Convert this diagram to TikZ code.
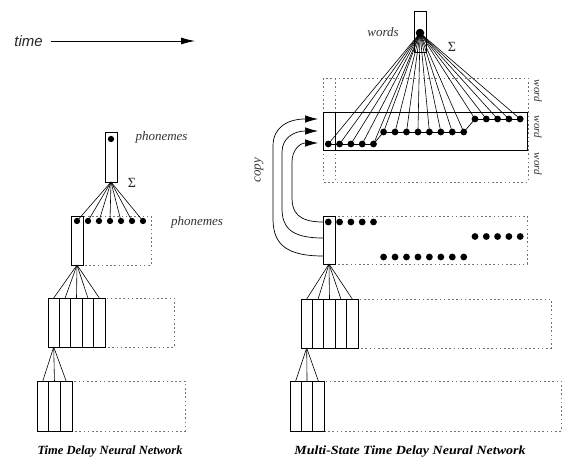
\documentclass[tikz,border=0pt]{standalone}
\usepackage{fontspec}
\setmainfont{Liberation Serif}
\newfontfamily\helvfont{Liberation Sans}
\usetikzlibrary{arrows.meta}
\begin{document}
\begin{tikzpicture}[x=1pt,y=-1pt, line width=0.7pt,
  unit/.style={circle, fill=black, inner sep=0pt, minimum size=6.3pt},
  runit/.style={circle, fill=black, inner sep=0pt, minimum size=6.8pt},
  col/.style={draw, inner sep=0pt, outer sep=0pt, minimum width=12pt},
  dbox/.style={draw=black!55, dash pattern=on 1.6pt off 2.6pt, line width=0.8pt},
  fan/.style={draw, line width=0.6pt},
  lbl/.style={font=\itshape\fontsize{13}{13}\selectfont, text=black!80, inner sep=0pt},
  wlbl/.style={font=\itshape\fontsize{11}{11}\selectfont, text=black!80, inner sep=0pt},
  sig/.style={font=\fontsize{14}{14}\selectfont, text=black!85, inner sep=0pt},
  captionstyle/.style={font=\bfseries\itshape\fontsize{12.5}{12.5}\selectfont, inner sep=0pt},
  copyarrow/.style={draw, line width=0.7pt, -{Latex[length=13pt,width=7.5pt]}}]
\useasboundingbox (0,0) rectangle (562,461);

% time arrow
\node[font=\helvfont\itshape\fontsize{15}{15}\selectfont, text=black!85, anchor=west, inner sep=0pt] (time) at (14,41) {time};
\coordinate (tend) at (195,41);
\draw[line width=0.8pt, shorten <=8pt, -{Latex[length=14pt,width=7pt]}] (time.east) -- (tend);

% ---------------- left network ----------------
\node[col, minimum height=50pt] (lo) at (111,157) {};
\node[unit] (lod) at (111,139) {};
\node[lbl] (lph1) at (161.5,137) {phonemes};
\node[sig] (lsig) at (132,183) {Σ};

\draw[dbox] (71,216) rectangle (151,265);
\node[col, minimum height=49pt] (lh) at (77,240.5) {};
\foreach \i in {0,...,6} {
  \node[unit] (ld\i) at ({77+11*\i},221) {};
  \draw[fan] (lo.south) -- (ld\i.center);
}
\node[lbl] (lph2) at (197,222) {phonemes};

\draw[dbox] (48,298) rectangle (174,347);
\foreach \i in {0,...,4} {
  \node[col, minimum width=11.4pt, minimum height=49pt] (la\i) at ({53.7+11.4*\i},322.5) {};
  \draw[fan] (lh.south) -- (la\i.north);
}

\draw[dbox] (37,381) rectangle (185,431);
\foreach \i in {0,...,2} {
  \node[col, minimum width=11.67pt, minimum height=50pt] (lb\i) at ({42.8+11.67*\i},406) {};
  \draw[fan] (la0.south) -- (lb\i.north);
}

% ---------------- right network ----------------
\node[col, minimum height=41pt] (ro) at (420,31.5) {};
\node[runit, minimum size=8.5pt] (rod) at (420,33) {};
\node[lbl] (rwords) at (383,32) {words};
\node[sig] (rsig) at (452,47) {Σ};

\draw[dbox] (323,78) rectangle (528,182);
\draw[dbox] (335,78) -- (335,182);
\node[draw, inner sep=0pt, outer sep=0pt, minimum width=204pt, minimum height=38pt, anchor=north west] (state) at (323,112) {};
\draw (335,112) -- (335,150);

\foreach \i in {0,...,4} \node[runit] (s\the\numexpr\i+1\relax) at ({328.3+11.3*\i},144) {};
\foreach \i in {0,...,7} \node[runit] (s\the\numexpr\i+6\relax) at ({383.6+11.45*\i},132) {};
\foreach \i in {0,...,4} \node[runit] (s\the\numexpr\i+14\relax) at ({475+11.3*\i},119) {};
\foreach \i [evaluate=\i as \j using int(\i+1)] in {1,...,17} \draw (s\i.center) -- (s\j.center);
\foreach \i in {1,...,18} \draw[fan] (rod.center) -- (s\i.center);

\node[wlbl, rotate=-90] (w1) at (538,91) {word};
\node[wlbl, rotate=-90] (w2) at (538,127) {word};
\node[wlbl, rotate=-90] (w3) at (538,164) {word};

\draw[dbox] (323,216) rectangle (527,264);
\node[col, minimum height=48pt] (rh) at (329,240) {};
\foreach \i in {0,...,4} \node[runit] (ha\i) at ({328.3+11.3*\i},222) {};
\foreach \i in {0,...,4} \node[runit] (hb\i) at ({475+11.3*\i},236.5) {};
\foreach \i in {0,...,7} \node[runit] (hc\i) at ({383.6+11.45*\i},257) {};

% copy arrows
\coordinate (c1s) at (323,222); \coordinate (c1e) at (318,143);
\coordinate (c2s) at (323,238); \coordinate (c2e) at (318,131);
\coordinate (c3s) at (323,256); \coordinate (c3e) at (318,119);
\draw[copyarrow] (c1s) .. controls (298,222) and (292,212) .. (292,198) -- (292,162) .. controls (292,150) and (300,143) .. (c1e);
\draw[copyarrow] (c2s) .. controls (289,238) and (282,226) .. (282,208) -- (282,152) .. controls (282,138) and (294,131) .. (c2e);
\draw[copyarrow] (c3s) .. controls (281,256) and (273,240) .. (273,218) -- (273,146) .. controls (273,127) and (288,119) .. (c3e);
\node[lbl, rotate=90] (copy) at (259,170) {copy};

\draw[dbox] (301,299) rectangle (551,348);
\foreach \i in {0,...,4} {
  \node[col, minimum width=11.4pt, minimum height=49pt] (ra\i) at ({306.7+11.4*\i},323.5) {};
  \draw[fan] (rh.south) -- (ra\i.north);
}

\draw[dbox] (290,381) rectangle (561,431);
\foreach \i in {0,...,2} {
  \node[col, minimum width=11.33pt, minimum height=50pt] (rb\i) at ({295.7+11.33*\i},406) {};
  \draw[fan] (ra0.south) -- (rb\i.north);
}

% captions
\node[captionstyle] (capl) at (110,452) {Time Delay Neural Network};
\node[captionstyle, xscale=1.12] (capr) at (410,452) {Multi-State Time Delay Neural Network};
\end{tikzpicture}
\end{document}
